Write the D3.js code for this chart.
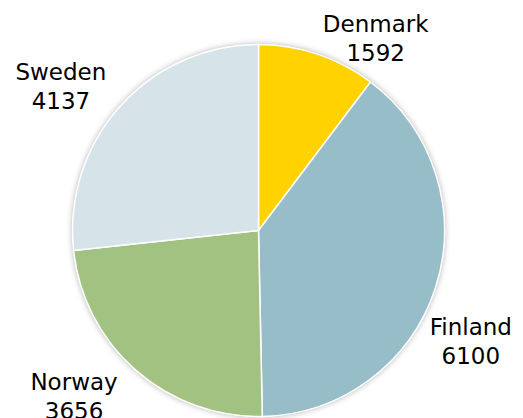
<!DOCTYPE html>
<html>
<head>
<meta charset="utf-8">
<script src="https://cdn.jsdelivr.net/npm/d3@7"></script>
<style>
  html, body { margin: 0; padding: 0; background: #fff; }
  svg { display: block; }
</style>
</head>
<body>
<div id="chart"></div>
<script>
const countries = ["Denmark", "Finland", "Norway", "Sweden"];
const counts = [1592, 6100, 3656, 4137];
const sliceColors = ["#FFD200", "#97BDC8", "#A1C281", "#D6E4EA"];

const width = 523, height = 418;
const cx = 258.5, cy = 230.5, radius = 186;

const data = countries.map((c, i) => ({ label: c, value: counts[i] }));

const svg = d3.select("#chart")
  .append("svg")
  .attr("width", width)
  .attr("height", height);

const defs = svg.append("defs");
const shadow = defs.append("filter")
  .attr("id", "pieShadow")
  .attr("x", "-10%").attr("y", "-10%")
  .attr("width", "120%").attr("height", "120%");
shadow.append("feDropShadow")
  .attr("dx", 0).attr("dy", 0)
  .attr("stdDeviation", 3)
  .attr("flood-color", "#000")
  .attr("flood-opacity", 0.35);

const color = d3.scaleOrdinal().domain(countries).range(sliceColors);

const pie = d3.pie().value(d => d.value).sort(null);
const arcs = pie(data);

const arc = d3.arc().innerRadius(0).outerRadius(radius);
const labelArc = d3.arc().innerRadius(240).outerRadius(240);

const g = svg.append("g")
  .attr("transform", `translate(${cx}, ${cy})`);

g.append("circle")
  .attr("r", radius)
  .attr("fill", "#fff")
  .attr("filter", "url(#pieShadow)");

g.selectAll("path.slice")
  .data(arcs)
  .enter()
  .append("path")
  .attr("class", "slice")
  .attr("d", arc)
  .attr("fill", d => color(d.data.label))
  .attr("stroke", "#fff")
  .style("stroke-width", "1.5px");

// best-fit style nudges for the outside labels
const nudge = {
  Denmark: [41, 29],
  Finland: [-16, 31],
  Norway: [-26, -21],
  Sweden: [-19, 10]
};

const labels = g.selectAll("text.slice-label")
  .data(arcs)
  .enter()
  .append("text")
  .attr("class", "slice-label")
  .attr("text-anchor", "middle")
  .style("font-family", "'DejaVu Sans', Verdana, sans-serif")
  .style("font-size", "23px")
  .style("fill", "#000")
  .attr("transform", d => {
    const [x, y] = labelArc.centroid(d);
    const n = nudge[d.data.label];
    return `translate(${x + n[0]}, ${y + n[1]})`;
  });

labels.append("tspan")
  .attr("x", 0).attr("y", 0)
  .text(d => d.data.label);

labels.append("tspan")
  .attr("x", 0).attr("y", 29)
  .text(d => d.data.value);
</script>
</body>
</html>
